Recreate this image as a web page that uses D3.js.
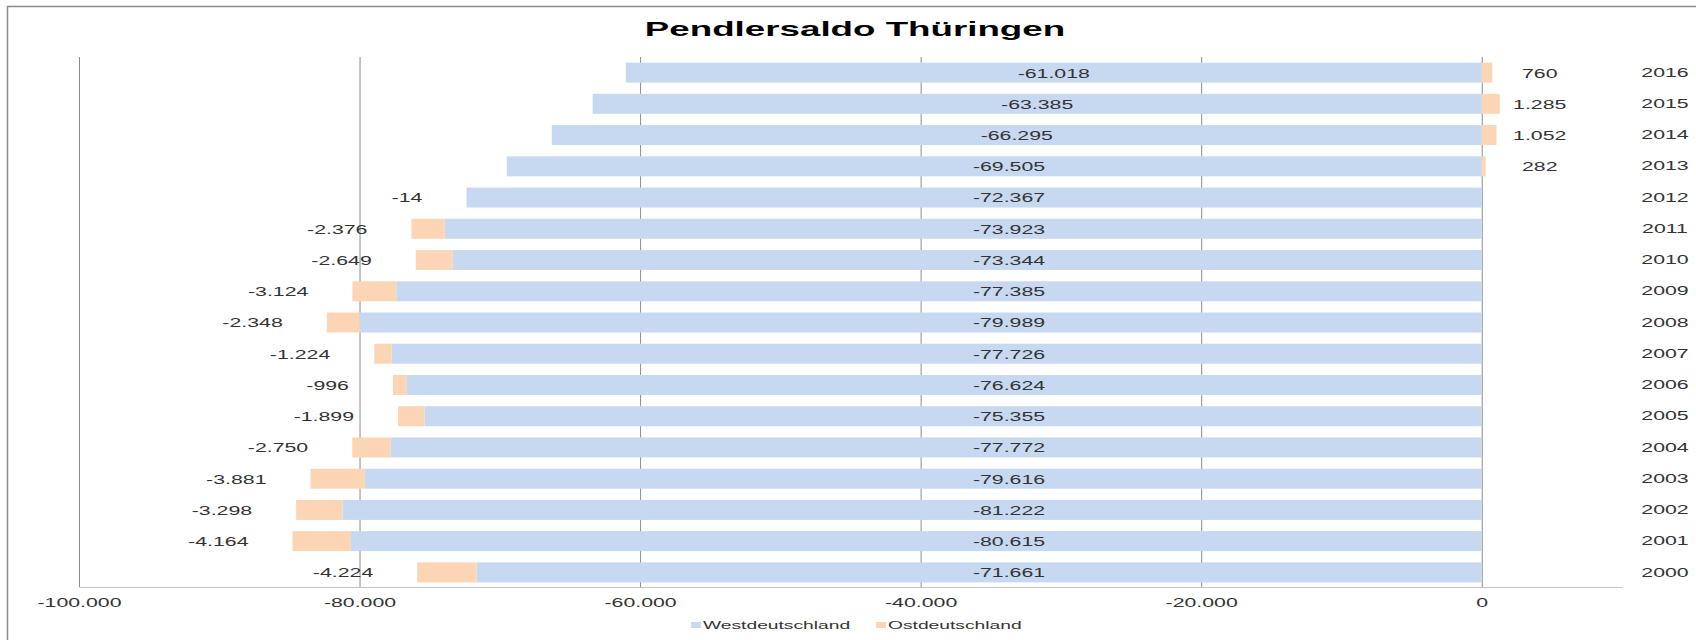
<!DOCTYPE html>
<html>
<head>
<meta charset="utf-8">
<script src="https://cdn.jsdelivr.net/npm/d3@7"></script>
<style>
  body { margin: 0; background: #fff; }
  svg { display: block; font-family: "Liberation Sans", Arial, sans-serif; }
</style>
</head>
<body>
<div id="chart"></div>
<script>
// Pendlersaldo Thüringen, Westdeutschland / Ostdeutschland
const years = [2000, 2001, 2002, 2003, 2004, 2005, 2006, 2007, 2008,
               2009, 2010, 2011, 2012, 2013, 2014, 2015, 2016];
const west = [-71661, -80615, -81222, -79616, -77772, -75355, -76624, -77726, -79989,
              -77385, -73344, -73923, -72367, -69505, -66295, -63385, -61018];
const ost = [-4224, -4164, -3298, -3881, -2750, -1899, -996, -1224, -2348,
             -3124, -2649, -2376, -14, 282, 1052, 1285, 760];
const seriesNames = ["Westdeutschland", "Ostdeutschland"];
const xTicks = [-100000, -80000, -60000, -40000, -20000, 0];

const width = 1696, height = 640;
const colors = { west: "#c6d9f1", ost: "#fcd5b5" };
// the original picture is stretched sideways, so the text is too
const stretch = 1.64;

const de = d3.formatLocale({ decimal: ",", thousands: ".", grouping: [3], currency: ["", " €"], minus: "-" });
const fmt = de.format(",d");

const rows = years.map((year, i) => ({ year, west: west[i], ost: ost[i] }));

const svg = d3.select("#chart").append("svg")
    .attr("width", width)
    .attr("height", height);

// outer frame
svg.append("rect")
    .attr("x", 7.5).attr("y", 6.5)
    .attr("width", width).attr("height", height)
    .attr("fill", "none")
    .attr("stroke", "#8a8a8a")
    .attr("stroke-width", 1.5);

const plot = { left: 79, right: 1622, top: 57, bottom: 588 };

const x = d3.scaleLinear()
    .domain([-100000, 10000])
    .range([plot.left, plot.right]);

const y = d3.scaleBand()
    .domain(years.slice().reverse())
    .range([plot.top, plot.bottom])
    .paddingInner(0.36)
    .paddingOuter(0.18);

// stretched text helper
function label(parent, px, py, text, opts) {
    const g = parent.append("g")
        .attr("transform", `translate(${px},${py}) scale(${opts.sx || stretch},1)`);
    return g.append("text")
        .attr("text-anchor", opts.anchor || "middle")
        .attr("dominant-baseline", "central")
        .attr("font-size", opts.size || 13)
        .attr("font-weight", opts.weight || "normal")
        .attr("fill", opts.color || "#333")
        .text(text);
}

// title
label(svg, 855, 29, "Pendlersaldo Thüringen", { size: 21, weight: "bold", color: "#000", sx: 1.75 });

// x axis with gridlines
const xAxis = svg.append("g")
    .attr("transform", `translate(0,${plot.bottom - 1})`)
    .call(d3.axisBottom(x)
        .tickValues(xTicks)
        .tickFormat(fmt)
        .tickSize(-(plot.bottom - 1 - plot.top))
        .tickSizeOuter(0)
        .tickPadding(11));

xAxis.select(".domain").attr("stroke", "#c4c4c4").attr("stroke-width", 1.2);
xAxis.selectAll(".tick line").attr("stroke", "#8c8c8c");
xAxis.selectAll(".tick text")
    .attr("font-size", 13)
    .attr("fill", "#333")
    .attr("font-family", "Liberation Sans, Arial, sans-serif")
    .attr("transform", `scale(${stretch},1)`);

// year axis on the right
const yAxis = svg.append("g")
    .attr("transform", `translate(1665,0)`)
    .call(d3.axisRight(y).tickSize(0).tickPadding(0));
yAxis.select(".domain").remove();
yAxis.selectAll(".tick text")
    .attr("text-anchor", "middle")
    .attr("font-size", 13)
    .attr("fill", "#333")
    .attr("font-family", "Liberation Sans, Arial, sans-serif")
    .attr("transform", `scale(${stretch},1)`);

// stacked bars
const stack = d3.stack()
    .keys(["west", "ost"])
    .offset(d3.stackOffsetDiverging);
const layers = stack(rows);

svg.append("g")
    .selectAll("g")
    .data(layers)
    .join("g")
    .attr("fill", d => colors[d.key])
    .selectAll("rect")
    .data(d => d)
    .join("rect")
    .attr("x", d => x(Math.min(d[0], d[1])))
    .attr("width", d => Math.abs(x(d[1]) - x(d[0])))
    .attr("y", d => y(d.data.year))
    .attr("height", y.bandwidth());

// value labels: west labels sit mid-bar but never further left than about -33.700
const labels = svg.append("g");
layers[0].forEach(d => {
    const mid = Math.max(d.data.west / 2, -33700);
    label(labels, x(mid), y(d.data.year) + y.bandwidth() / 2 + 0.5, fmt(d.data.west), {});
});
layers[1].forEach(d => {
    const cy = y(d.data.year) + y.bandwidth() / 2 + 0.5;
    if (d.data.ost < 0) {
        label(labels, x(d[0]) - 44, cy, fmt(d.data.ost), { anchor: "end" });
    } else {
        label(labels, x(0) + 58, cy, fmt(d.data.ost), {});
    }
});

// legend
const legend = svg.append("g");
const legendItems = [
    { name: seriesNames[0], color: colors.west, sx: 691, tx: 703 },
    { name: seriesNames[1], color: colors.ost, sx: 876, tx: 888 }
];
legendItems.forEach(item => {
    legend.append("rect")
        .attr("x", item.sx).attr("y", 622)
        .attr("width", 10).attr("height", 6)
        .attr("fill", item.color);
    label(legend, item.tx, 625, item.name, { anchor: "start", size: 11, sx: 1.75 });
});
</script>
</body>
</html>
